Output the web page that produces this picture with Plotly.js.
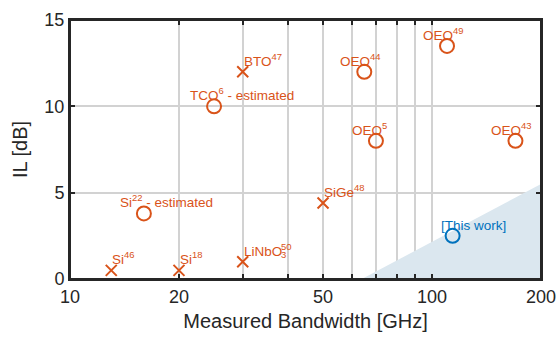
<!DOCTYPE html>
<html>
<head>
<meta charset="utf-8">
<script src="https://cdn.plot.ly/plotly-3.0.1.min.js"></script>
<style>html,body{margin:0;padding:0;background:#fff;}#chart{width:560px;height:339px;}</style>
</head>
<body>
<div id="chart"></div>
<script>
// Prior work (open circles)
const circleX = [16, 25, 65, 70, 110, 170];
const circleY = [3.8, 10, 12, 8, 13.5, 8];
const circleLabels = ["Si<sup>22</sup> - estimated", "TCO<sup>6</sup> - estimated", "OEO<sup>44</sup>", "OEO<sup>5</sup>", "OEO<sup>49</sup>", "OEO<sup>43</sup>"];
// Prior work (crosses)
const crossX = [13, 20, 30, 30, 50];
const crossY = [0.5, 0.5, 1, 12, 4.4];
const crossLabels = ["Si<sup>46</sup>", "Si<sup>18</sup>", "LiNbO", "BTO<sup>47</sup>", "SiGe<sup>48</sup>"];
// stacked superscript / subscript pairs drawn after the base text
const crossStackSup = ["", "", "50", "", ""];
const crossStackSub = ["", "", "3", "", ""];
// This work
const workX = [114];
const workY = [2.5];
const workLabels = ["[This work]"];
// Shaded target region
const regionX = [64, 200, 200, 64];
const regionY = [0, 5.5, 0, 0];
// Axis ticks
const xTickVals = [10, 20, 30, 40, 50, 60, 70, 80, 90, 100, 200];
const xTickText = ["10", "20", "", "", "50", "", "", "", "", "100", "200"];
const yTickVals = [0, 5, 10, 15];

const orange = "#D95319";
const blue = "#0072BD";
const dark = "#262626";
const font = "Liberation Sans, Arial, Helvetica, sans-serif";
const labelSize = 13.5;

const ctx = document.createElement("canvas").getContext("2d");
ctx.font = labelSize + "px 'Liberation Sans'";

const traces = [
  {x: regionX, y: regionY, type: "scatter", mode: "lines", fill: "toself",
   fillcolor: "#dbe7ef", line: {width: 0, color: "rgba(0,0,0,0)"}, hoverinfo: "skip", showlegend: false},
  {x: circleX, y: circleY, type: "scatter", mode: "markers", showlegend: false,
   marker: {symbol: "circle-open", size: 14, color: orange, line: {width: 2, color: orange}}},
  {x: crossX, y: crossY, type: "scatter", mode: "markers", showlegend: false,
   marker: {symbol: "x-thin-open", size: 11, color: orange, line: {width: 2, color: orange}}},
  {x: workX, y: workY, type: "scatter", mode: "markers", showlegend: false,
   marker: {symbol: "circle-open", size: 14, color: blue, line: {width: 2, color: blue}}}
];

const annotations = [];
function addLabels(xs, ys, labels, color, xshift, stackSup, stackSub) {
  for (let i = 0; i < xs.length; i++) {
    annotations.push({x: Math.log10(xs[i]), y: ys[i], xref: "x", yref: "y", text: labels[i],
      showarrow: false, xanchor: "left", yanchor: "bottom", xshift: xshift, yshift: 1,
      font: {family: font, size: labelSize, color: color}});
    if (stackSup && stackSup[i]) {
      const w = ctx.measureText(labels[i]).width;
      annotations.push({x: Math.log10(xs[i]), y: ys[i], xref: "x", yref: "y", text: stackSup[i],
        showarrow: false, xanchor: "left", yanchor: "bottom", xshift: xshift + w, yshift: 9,
        borderpad: 0, font: {family: font, size: 9.5, color: color}});
      annotations.push({x: Math.log10(xs[i]), y: ys[i], xref: "x", yref: "y", text: stackSub[i],
        showarrow: false, xanchor: "left", yanchor: "bottom", xshift: xshift + w, yshift: 1,
        borderpad: 0, font: {family: font, size: 9.5, color: color}});
    }
  }
}
addLabels(circleX, circleY, circleLabels, orange, -26);
addLabels(crossX, crossY, crossLabels, orange, -1, crossStackSup, crossStackSub);
addLabels(workX, workY, workLabels, blue, -14);

const layout = {
  width: 560, height: 339,
  margin: {l: 70, r: 19, t: 20, b: 60},
  paper_bgcolor: "#fff", plot_bgcolor: "#fff",
  font: {family: font, color: dark},
  showlegend: false,
  xaxis: {
    type: "log", range: [1, Math.log10(200)],
    tickmode: "array", tickvals: xTickVals, ticktext: xTickText,
    ticks: "inside", ticklen: 5, tickwidth: 2, tickcolor: dark,
    showline: true, linecolor: dark, linewidth: 2, mirror: "ticks",
    showgrid: true, gridcolor: "#d2d2d2", gridwidth: 2, zeroline: false,
    tickfont: {size: 18, color: dark},
    title: {text: "Measured Bandwidth [GHz]", font: {size: 20, color: dark}, standoff: 8}
  },
  yaxis: {
    range: [0, 15], tickmode: "array", tickvals: yTickVals,
    ticks: "inside", ticklen: 5, tickwidth: 2, tickcolor: dark,
    showline: true, linecolor: dark, linewidth: 2, mirror: "ticks",
    showgrid: true, gridcolor: "#d2d2d2", gridwidth: 2, zeroline: false,
    tickfont: {size: 18, color: dark},
    title: {text: "IL [dB]", font: {size: 20, color: dark}, standoff: 11}
  },
  shapes: [{type: "rect", xref: "paper", yref: "paper", x0: 0, x1: 1, y0: 0, y1: 1,
    line: {color: dark, width: 2}, fillcolor: "rgba(0,0,0,0)", layer: "above"}],
  annotations: annotations
};

Plotly.newPlot("chart", traces, layout, {displayModeBar: false, staticPlot: true});
</script>
</body>
</html>
